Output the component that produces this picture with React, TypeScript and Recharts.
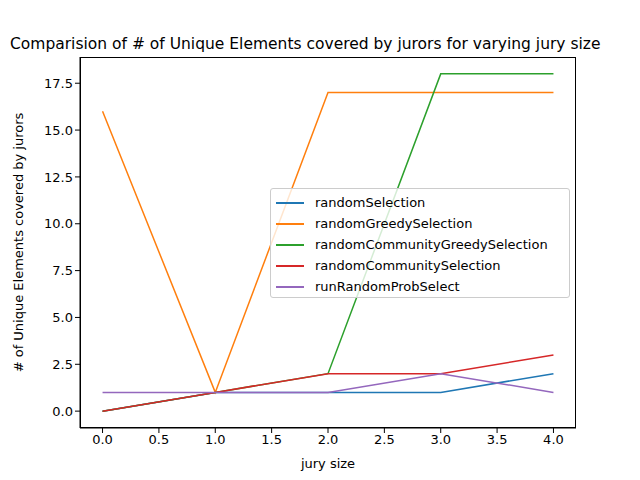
import { LineChart, Line, XAxis, YAxis, Label } from 'recharts';

const jurySizes = [0, 1, 2, 3, 4];
const randomSelection = [0, 1, 1, 1, 2];
const randomGreedySelection = [16, 1, 17, 17, 17];
const randomCommunityGreedySelection = [0, 1, 2, 18, 18];
const randomCommunitySelection = [0, 1, 2, 2, 3];
const runRandomProbSelect = [1, 1, 1, 2, 1];
const xTicks = [0, 0.5, 1, 1.5, 2, 2.5, 3, 3.5, 4];
const yTicks = [0, 2.5, 5, 7.5, 10, 12.5, 15, 17.5];

const SERIES = [
  { key: 'randomSelection', values: randomSelection, color: '#1f77b4' },
  { key: 'randomGreedySelection', values: randomGreedySelection, color: '#ff7f0e' },
  { key: 'randomCommunityGreedySelection', values: randomCommunityGreedySelection, color: '#2ca02c' },
  { key: 'randomCommunitySelection', values: randomCommunitySelection, color: '#d62728' },
  { key: 'runRandomProbSelect', values: runRandomProbSelect, color: '#9467bd' },
];

const data = jurySizes.map((x, i) => {
  const row: Record<string, number> = { x };
  SERIES.forEach((s) => (row[s.key] = s.values[i]));
  return row;
});

const font = 'DejaVu Sans, sans-serif';
const tick = { fontSize: 13, fill: '#000', fontFamily: font };

export default function App() {
  return (
    <div style={{ margin: -8, width: 640, height: 480, position: 'relative', overflow: 'hidden', background: '#fff', fontFamily: font }}>
      <LineChart width={640} height={480} data={data} margin={{ top: 57, right: 64, left: 0, bottom: 0 }}>
        <XAxis dataKey="x" type="number" domain={[-0.2, 4.2]} ticks={xTicks} tickFormatter={(v) => v.toFixed(1)}
          tick={tick} stroke="#000" tickSize={5} height={52} interval={0}>
          <Label value="jury size" position="insideBottom" offset={12} style={{ fontSize: 13, fill: '#000', fontFamily: font }} />
        </XAxis>
        <YAxis type="number" domain={[-0.9, 18.9]} ticks={yTicks} tickFormatter={(v) => v.toFixed(1)}
          tick={tick} stroke="#000" tickSize={5} width={80} interval={0}>
          <Label value="# of Unique Elements covered by jurors" angle={-90} position="insideLeft" offset={18}
            style={{ fontSize: 13, fill: '#000', fontFamily: font, textAnchor: 'middle' }} />
        </YAxis>
        {SERIES.map((s) => (
          <Line key={s.key} dataKey={s.key} stroke={s.color} strokeWidth={1.5} dot={false} type="linear" isAnimationActive={false} />
        ))}
      </LineChart>
      <div style={{ position: 'absolute', left: 80, top: 57, width: 496, height: 371, border: '1px solid #000', boxSizing: 'border-box', pointerEvents: 'none' }} />
      <div style={{ position: 'absolute', left: 10, top: 35, whiteSpace: 'nowrap', fontSize: 15.5 }}>
        Comparision of # of Unique Elements covered by jurors for varying jury size
      </div>
      <div style={{ position: 'absolute', left: 270, top: 188, width: 300, height: 110, boxSizing: 'border-box', border: '1px solid #ccc', borderRadius: 3, background: 'rgba(255,255,255,0.8)', padding: '3px 0 0 5px' }}>
        {SERIES.map((s) => (
          <div key={s.key} style={{ display: 'flex', alignItems: 'center', height: 21, fontSize: 13 }}>
            <span style={{ display: 'inline-block', width: 28, height: 2, background: s.color, marginRight: 11 }} />
            {s.key}
          </div>
        ))}
      </div>
    </div>
  );
}
